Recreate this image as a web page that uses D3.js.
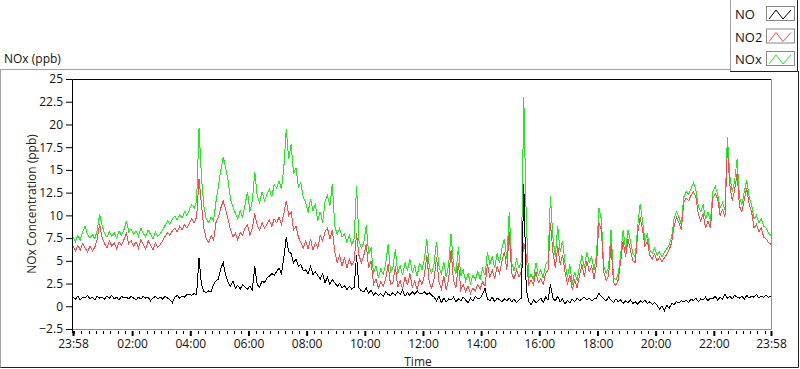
<!DOCTYPE html>
<meta charset="utf-8">
<script src="https://d3js.org/d3.v7.min.js"></script>
<style>
  body { margin: 0; background: #fff; }
  text { font-family: "Open Sans", "Noto Sans", sans-serif; }
</style>
<div id="chart"></div>
<script>

// one reading every 5 minutes, 23:58 -> 23:58 next day (12 per hour)
const NOx = [
  7.6, 7.1, 7.8, 7.3, 8.2, 8.8, 7.9, 7.5, 7.9, 7.4, 8.4, 10.1,
  8.9, 8.0, 7.6, 8.2, 7.7, 8.1, 7.5, 8.3, 7.8, 8.4, 9.4, 8.2,
  8.5, 7.9, 8.3, 7.7, 8.6, 8.0, 7.6, 8.4, 7.9, 7.4, 8.2, 7.7,
  8.0, 8.4, 8.9, 9.4, 9.0, 9.6, 9.9, 9.5, 10.1, 9.7, 10.4, 10.0,
  10.6, 11.2, 10.8, 11.6, 19.6, 14.2, 11.0, 9.6, 9.2, 9.8, 9.4, 11.5,
  13.2, 15.0, 16.4, 15.2, 13.8, 11.8, 10.9, 10.2, 9.6, 10.5, 9.8, 11.2,
  12.6, 10.4, 11.6, 14.8, 12.2, 11.4, 12.6, 11.6, 12.3, 12.9, 12.0, 13.4,
  13.0, 13.8, 12.9, 15.3, 19.5, 16.2, 17.8, 14.6, 15.2, 13.1, 13.6, 12.0,
  11.4, 10.3, 11.8, 10.5, 11.2, 9.4, 10.4, 9.2, 11.5, 12.2, 11.0, 13.5,
  8.8, 7.9, 8.6, 7.6, 8.0, 7.0, 7.8, 6.8, 7.4, 13.2, 7.2, 6.4,
  7.0, 8.9, 5.8, 6.4, 3.6, 4.4, 3.2, 4.1, 3.5, 4.6, 6.8, 3.8,
  4.2, 6.3, 3.6, 4.5, 3.4, 4.8, 3.9, 5.2, 3.7, 4.4, 3.3, 4.8,
  4.0, 5.2, 7.4, 4.3, 3.6, 4.7, 7.1, 4.4, 3.5, 4.9, 3.2, 4.6,
  8.0, 4.5, 3.6, 6.5, 3.3, 4.0, 2.8, 3.6, 2.5, 3.4, 2.9, 3.8,
  3.0, 4.1, 3.4, 6.0, 4.6, 5.5, 4.2, 5.8, 4.8, 6.4, 7.4, 5.2,
  10.4, 4.8, 3.9, 5.1, 4.2, 4.9, 23.0, 9.8, 3.0, 3.5, 2.9, 4.8,
  3.4, 4.0, 3.1, 4.6, 5.0, 12.1, 7.6, 5.4, 8.8, 6.0, 7.2, 4.8,
  3.2, 4.6, 2.4, 3.8, 2.8, 4.4, 5.6, 4.2, 6.0, 4.8, 5.4, 4.0,
  5.6, 10.8, 9.6, 4.4, 3.6, 4.3, 8.4, 3.2, 2.9, 3.6, 5.8, 8.4,
  6.2, 8.4, 7.2, 5.8, 5.4, 8.8, 11.2, 9.4, 7.2, 8.0, 6.2, 5.8,
  6.4, 5.6, 6.0, 5.4, 5.9, 6.3, 6.8, 7.6, 9.6, 10.4, 9.8, 9.0,
  12.0, 12.6, 12.3, 12.9, 13.6, 12.8, 11.0, 10.4, 11.2, 9.6, 10.4, 9.4,
  12.6, 13.2, 12.4, 10.8, 11.4, 10.6, 18.6, 14.4, 12.6, 13.8, 16.2, 12.0,
  11.2, 12.6, 13.9, 12.0, 11.2, 9.6, 10.0, 9.2, 9.6, 8.8, 8.6, 8.0, 7.8
];

const NO2 = [
  6.6, 6.1, 6.7, 6.2, 6.9, 6.4, 6.0, 6.6, 6.1, 6.5, 7.4, 9.0,
  7.6, 6.9, 6.4, 7.2, 6.6, 7.0, 6.3, 7.1, 6.7, 7.3, 8.0, 6.9,
  7.2, 6.6, 7.1, 6.4, 7.3, 6.8, 6.3, 7.2, 6.7, 6.2, 7.0, 6.5,
  6.8, 7.2, 7.7, 8.1, 7.8, 8.3, 8.6, 8.2, 8.8, 8.4, 9.0, 8.6,
  9.1, 9.6, 9.2, 9.8, 14.0, 11.2, 8.6, 7.4, 7.0, 7.8, 7.3, 9.2,
  9.8, 10.8, 11.6, 10.6, 9.6, 8.4, 7.6, 8.0, 7.3, 8.1, 7.8, 8.6,
  9.0, 7.8, 8.6, 10.2, 8.9, 8.4, 9.2, 8.6, 9.0, 9.5, 8.8, 9.6,
  9.2, 9.8, 9.0, 10.2, 11.6, 10.0, 10.4, 8.4, 8.8, 7.6, 7.0, 6.4,
  7.2, 6.3, 7.4, 6.2, 7.0, 6.4, 7.8, 7.2, 8.2, 8.6, 7.4, 8.4,
  6.0, 4.8, 5.6, 4.4, 5.4, 4.2, 5.2, 4.5, 5.0, 8.0, 5.6, 4.8,
  5.6, 6.8, 4.2, 5.0, 2.4, 3.0, 2.0, 2.7, 2.2, 3.0, 4.6, 2.4,
  2.6, 4.4, 2.1, 2.8, 1.9, 3.2, 2.3, 3.6, 2.1, 2.8, 1.8, 3.0,
  2.4, 3.4, 5.6, 2.6, 2.0, 3.0, 5.4, 2.7, 1.9, 3.3, 1.8, 3.0,
  6.2, 2.8, 2.0, 4.8, 1.8, 2.4, 1.6, 2.2, 1.4, 2.0, 1.7, 2.4,
  1.9, 2.7, 2.2, 4.6, 3.2, 4.0, 3.0, 4.4, 3.6, 5.0, 6.0, 4.0,
  8.2, 3.6, 3.0, 4.0, 3.2, 3.8, 7.0, 5.6, 2.4, 2.9, 2.4, 3.8,
  2.6, 3.0, 2.4, 3.6, 4.0, 9.2, 6.0, 4.2, 6.6, 4.6, 5.6, 3.8,
  2.4, 3.4, 1.8, 2.9, 2.0, 3.4, 4.6, 3.2, 5.0, 3.8, 4.4, 3.0,
  4.6, 9.2, 8.4, 3.8, 2.8, 3.4, 6.8, 2.6, 2.3, 2.9, 5.0, 7.2,
  5.4, 7.4, 6.2, 5.0, 4.8, 8.0, 9.8, 8.4, 6.6, 7.2, 5.6, 5.2,
  5.8, 5.0, 5.4, 4.9, 5.3, 5.7, 6.2, 7.0, 8.8, 9.8, 9.2, 8.4,
  11.4, 11.9, 11.6, 12.2, 12.6, 12.0, 10.2, 9.4, 10.2, 8.6, 9.4, 8.6,
  11.9, 12.4, 11.8, 10.0, 10.6, 9.8, 17.4, 13.4, 11.6, 12.8, 14.6, 11.0,
  10.4, 11.8, 13.0, 11.2, 10.4, 8.6, 9.0, 8.2, 8.6, 7.6, 7.4, 7.0, 6.8
];

const NO = [
  1.0, 0.8, 1.1, 0.7, 1.0, 0.9, 1.2, 0.8, 1.0, 0.7, 1.1, 0.9,
  1.0, 0.8, 1.1, 0.9, 1.2, 0.8, 1.0, 0.7, 1.1, 0.9, 1.0, 0.8,
  1.1, 0.9, 0.7, 1.0, 0.8, 1.1, 0.9, 1.0, 0.6, 0.9, 1.1, 0.8,
  1.0, 0.8, 1.1, 0.9, 0.7, 0.4, 1.0, 1.2, 0.9, 1.1, 1.0, 1.3,
  1.3, 1.2, 1.4, 1.3, 5.3, 2.4, 1.6, 1.5, 1.7, 1.6, 2.4, 2.8,
  3.0, 4.2, 4.8, 3.4, 2.6, 2.2, 2.8, 2.0, 2.3, 1.9, 2.4, 2.1,
  1.9, 2.2, 1.8, 4.4, 2.4, 2.1, 2.8, 2.6, 3.1, 3.3, 3.6, 3.4,
  3.8, 4.2, 3.6, 5.4, 7.6, 6.0, 5.8, 4.8, 5.2, 4.4, 4.6, 3.9,
  4.0, 3.6, 4.4, 3.5, 3.8, 3.4, 3.0, 3.6, 2.6, 3.2, 2.4, 2.9,
  2.6, 2.2, 2.5, 2.0, 2.3, 1.8, 2.2, 1.9, 2.1, 5.6, 2.0, 1.7,
  1.6, 2.0, 1.4, 1.8, 1.2, 1.5, 1.2, 1.4, 1.1, 1.6, 1.3, 1.2,
  1.5, 1.2, 1.6, 1.3, 1.8, 1.1, 1.5, 1.2, 1.6, 1.3, 1.7, 1.4,
  1.4, 1.6, 1.3, 1.5, 1.2, 1.0, 0.6, 1.1, 0.4, 0.9, 0.5, 0.8,
  0.7, 1.0, 0.5, 0.8, 0.6, 1.0, 0.7, 0.4, 0.9, 0.6, 1.1, 0.8,
  0.9, 1.3, 2.0, 0.8, 0.6, 1.0, 0.5, 0.9, 0.7, 0.5, 0.8, 0.6,
  0.9, 0.5, 0.8, 0.4, 0.7, 0.9, 13.4, 2.0, 0.5, 0.2, 0.7, 0.4,
  0.6, 0.9, 0.4, 1.0, 0.7, 2.4, 0.9, 0.6, 1.1, 0.5, 0.8, 0.3,
  0.6, 0.4, 0.8, 0.5, 0.9, 0.6, 0.8, 1.0, 0.7, 0.9, 0.6, 0.8,
  0.9, 1.4, 1.1, 0.8, 0.6, 1.0, 0.7, 0.4, 0.8, 0.5, 0.7, 0.3,
  0.6, 0.4, 0.7, 0.3, 0.5, 0.2, 0.6, 0.4, 0.7, 0.3, 0.5, 0.2,
  0.4, 0.1, -0.3, 0.0, -0.5, 0.1, -0.2, 0.3, 0.2, 0.5, 0.4, 0.6,
  0.5, 0.7, 0.4, 0.8, 0.6, 0.9, 0.5, 0.8, 0.7, 1.0, 0.6, 0.9,
  0.8, 1.1, 0.7, 1.0, 0.8, 1.3, 0.9, 1.1, 0.8, 1.2, 1.0, 0.9,
  1.1, 0.8, 1.2, 0.9, 1.1, 1.0, 1.3, 0.9, 1.1, 1.0, 1.2, 1.0, 1.1
];

const yTicks = [-2.5, 0, 2.5, 5, 7.5, 10, 12.5, 15, 17.5, 20, 22.5, 25];
const xTickHours = ["02:00", "04:00", "06:00", "08:00", "10:00", "12:00", "14:00", "16:00", "18:00", "20:00", "22:00"];
const legendNames = ["NO", "NO2", "NOx"];
const legendColors = ["#000000", "#ff4848", "#18f018"];

const W = 800, H = 369;
const t0 = new Date(2020, 0, 1, 23, 58);
const t1 = new Date(2020, 0, 2, 23, 58);
const timeOf = i => d3.timeMinute.offset(t0, i * 5);

const svg = d3.select("#chart").append("svg")
    .attr("width", W).attr("height", H);

svg.append("rect").attr("width", W).attr("height", H).attr("fill", "#fff");

// panel frame (sunken look)
svg.append("path").attr("d", "M0.5,368 V69.5 H730").attr("fill", "none").attr("stroke", "#a0a0a0");
svg.append("path").attr("d", "M0.5,367.5 H798.5 V71").attr("fill", "none").attr("stroke", "#202020");

svg.append("text").attr("x", 4).attr("y", 63).text("NOx (ppb)")
    .style("font-size", "12px").attr("fill", "#111");

const x = d3.scaleTime().domain([t0, t1]).range([73, 771]);
const y = d3.scaleLinear().domain([-2.5, 25]).range([329, 79]);

// plot box
svg.append("path").attr("d", "M72.5,331 V79.5 H771.5 V329.5 H72")
    .attr("fill", "none").attr("stroke", "#909090");
svg.append("path").attr("d", "M72.5,333 V79.5 H771")
    .attr("fill", "none").attr("stroke", "#000");

// series
const line = d => d3.line()
    .x((v, i) => x(timeOf(i)))
    .y(v => y(v))(d);

const plot = svg.append("g");
[[NOx, legendColors[2]], [NO2, legendColors[1]], [NO, legendColors[0]]].forEach(([d, c]) => {
  plot.append("path")
      .attr("d", line(d))
      .attr("fill", "none")
      .attr("stroke", c)
      .attr("stroke-width", 1)
      .attr("shape-rendering", "crispEdges");
});

// y axis
const yAxis = svg.append("g").attr("transform", "translate(72,0)")
    .call(d3.axisLeft(y).tickValues(yTicks).tickSize(6).tickPadding(3).tickFormat(d3.format("")));
yAxis.select(".domain").remove();
yAxis.selectAll("line").attr("stroke", "#000");
yAxis.selectAll("text").style("font-size", "12px").style("font-family", "\"Open Sans\", sans-serif").attr("fill", "#111");

svg.append("text")
    .attr("transform", "translate(31,204) rotate(-90)")
    .attr("text-anchor", "middle").attr("dominant-baseline", "central")
    .style("font-size", "12px").attr("fill", "#2a2418")
    .text("NOx Concentration (ppb)");

// x axis
const minor = d3.timeMinute.every(15).range(t0, t1);
svg.append("g").selectAll("line").data(minor).join("line")
    .attr("x1", d => Math.round(x(d)) + 0.5).attr("x2", d => Math.round(x(d)) + 0.5)
    .attr("y1", 331).attr("y2", 334)
    .attr("stroke", "#000");

const parse = d3.timeParse("%Y-%m-%d %H:%M");
const majors = [t0].concat(xTickHours.map(h => parse("2020-01-02 " + h))).concat([t1]);
const xAxis = svg.append("g").attr("transform", "translate(0,331)")
    .call(d3.axisBottom(x).tickValues(majors).tickSize(5).tickPadding(3).tickFormat(d3.timeFormat("%H:%M")));
xAxis.select(".domain").remove();
xAxis.selectAll("line").attr("stroke", "#000").attr("stroke-width", 2);
xAxis.selectAll("text").style("font-size", "12px").style("font-family", "\"Open Sans\", sans-serif").attr("fill", "#111");

svg.append("text").attr("x", 418).attr("y", 366).attr("text-anchor", "middle")
    .style("font-size", "12px").attr("fill", "#2a1a10").text("Time");

// legend
const lg = svg.append("g");
lg.append("path").attr("d", "M730.5,71 V0").attr("stroke", "#a0a0a0").attr("fill", "none");
lg.append("path").attr("d", "M730,71.5 H797.5 V0").attr("stroke", "#202020").attr("fill", "none");
legendNames.forEach((n, i) => {
  const cy = 14 + i * 22.5;
  lg.append("text").attr("x", 735).attr("y", cy).attr("dominant-baseline", "central")
      .style("font-size", "13px").attr("fill", "#111").text(n);
  lg.append("rect").attr("x", 766.5).attr("y", cy - 7.5).attr("width", 28).attr("height", 14)
      .attr("fill", "#fff").attr("stroke", "#888");
  lg.append("path")
      .attr("d", `M769,${cy + 5} L776,${cy - 4} L783,${cy + 5} L791,${cy - 4}`)
      .attr("fill", "none").attr("stroke", legendColors[i]);
});

</script>
